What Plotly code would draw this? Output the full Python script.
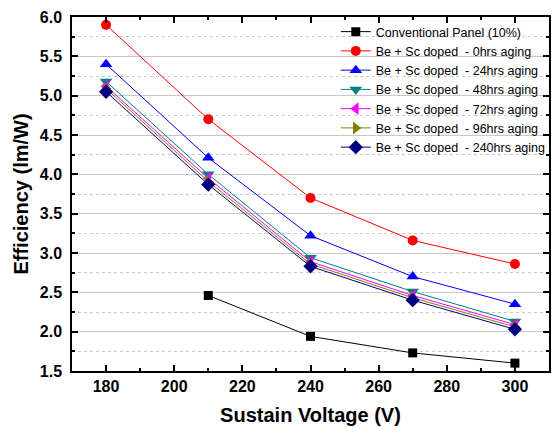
import plotly.graph_objects as go

voltage = [180, 210, 240, 270, 300]
conventional_v = [210, 240, 270, 300]
conventional = [2.46, 1.94, 1.73, 1.60]
aging_0h = [5.90, 4.70, 3.70, 3.16, 2.86]
aging_24h = [5.40, 4.21, 3.22, 2.70, 2.35]
aging_48h = [5.18, 4.00, 2.94, 2.51, 2.13]
aging_72h = [5.12, 3.95, 2.89, 2.46, 2.09]
aging_96h = [5.09, 3.91, 2.86, 2.43, 2.06]
aging_240h = [5.05, 3.87, 2.83, 2.40, 2.03]

series = [
    ("Conventional Panel (10%)", conventional_v, conventional, "black", "square", 9),
    ("Be + Sc doped  - 0hrs aging", voltage, aging_0h, "#ff0000", "circle", 10),
    ("Be + Sc doped  - 24hrs aging", voltage, aging_24h, "#0000ff", "triangle-up", 11),
    ("Be + Sc doped  - 48hrs aging", voltage, aging_48h, "#008080", "triangle-down", 11),
    ("Be + Sc doped  - 72hrs aging", voltage, aging_72h, "#ff00ff", "triangle-left", 11),
    ("Be + Sc doped  - 96hrs aging", voltage, aging_96h, "#808000", "triangle-right", 11),
    ("Be + Sc doped  - 240hrs aging", voltage, aging_240h, "#000080", "diamond", 11),
]

fig = go.Figure()
for name, xs, ys, color, symbol, size in series:
    fig.add_trace(go.Scatter(
        x=xs, y=ys, name=name, mode="lines+markers",
        line=dict(color=color, width=1),
        marker=dict(symbol=symbol, size=size, color=color),
    ))

fig.update_layout(
    width=554, height=427,
    margin=dict(l=72, r=5, t=17, b=56, autoexpand=False),
    paper_bgcolor="white", plot_bgcolor="white",
    font=dict(family="Arial, Liberation Sans, sans-serif", color="black"),
    showlegend=True,
    legend=dict(
        x=0.553, y=1.0, xanchor="left", yanchor="top",
        bgcolor="rgba(0,0,0,0)", font=dict(size=12.5),
        tracegroupgap=0, itemwidth=30,
    ),
)

fig.update_xaxes(
    range=[170, 310], tickvals=[180, 200, 220, 240, 260, 280, 300],
    ticks="inside", ticklen=6, tickwidth=1.5, tickcolor="black",
    minor=dict(dtick=10, tick0=170, ticks="inside", ticklen=3, tickcolor="black", showgrid=False),
    showline=True, linecolor="black", linewidth=1.5, mirror="ticks",
    showgrid=False, zeroline=False,
    tickfont=dict(size=16, weight="bold"),
    title=dict(text="<b>Sustain Voltage (V)</b>", font=dict(size=20), standoff=14),
)
fig.update_yaxes(
    range=[1.5, 6.0], dtick=0.5, tickformat=".1f",
    ticks="inside", ticklen=6, tickwidth=1.5, tickcolor="black",
    minor=dict(dtick=0.25, ticks="inside", ticklen=3, tickcolor="black",
               showgrid=True, gridcolor="#c8c8c8", griddash="dot", gridwidth=1),
    showline=True, linecolor="black", linewidth=1.5, mirror="ticks",
    showgrid=True, gridcolor="#c8c8c8", gridwidth=1, zeroline=False,
    tickfont=dict(size=16, weight="bold"), ticklabelstandoff=5,
    title=dict(text="<b>Efficiency (lm/W)</b>", font=dict(size=20), standoff=6),
)

fig.write_html("out.html")
